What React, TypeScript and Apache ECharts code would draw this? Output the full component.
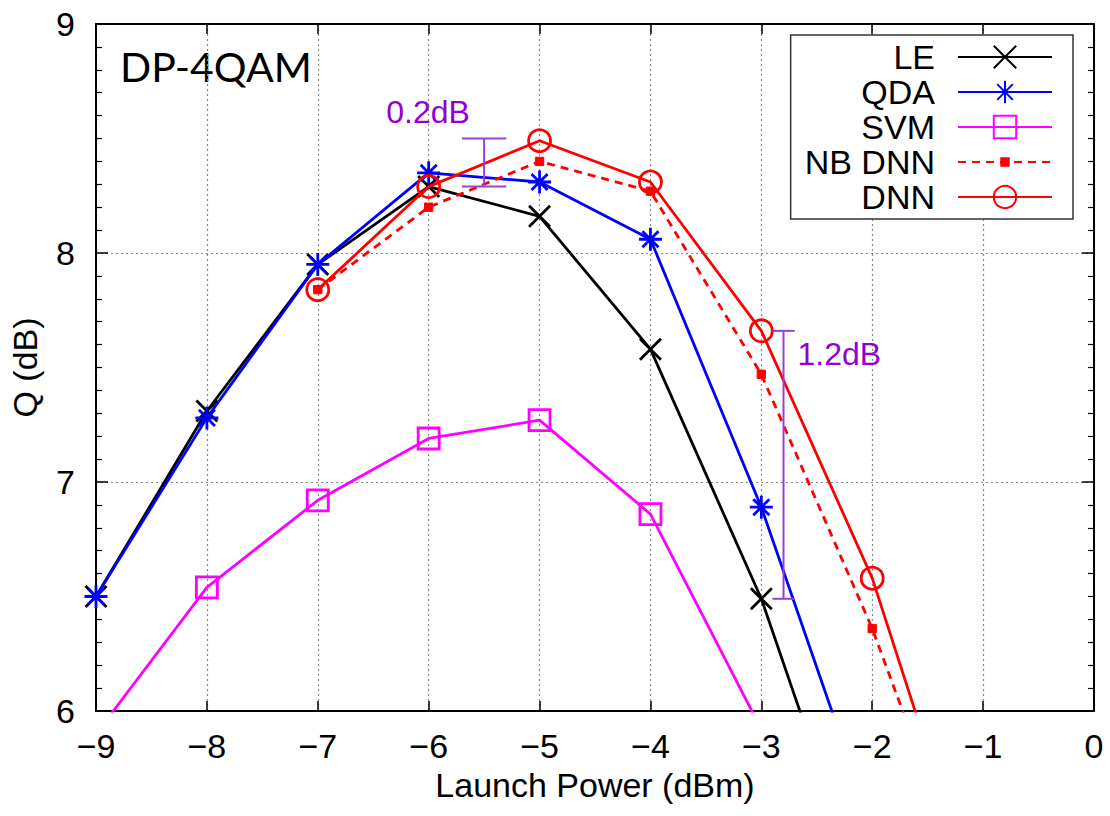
import { useEffect, useRef } from 'react';
import * as echarts from 'echarts';

// Launch power sweep (dBm) and measured Q factor (dB) for each equaliser
const powerLE = [-9, -8, -7, -6, -5, -4, -3, -2];
const qLE = [6.5, 7.31, 7.95, 8.29, 8.16, 7.58, 6.49, 5.08];

const powerQDA = [-9, -8, -7, -6, -5, -4, -3, -2];
const qQDA = [6.5, 7.28, 7.95, 8.35, 8.31, 8.06, 6.89, 5.49];

const powerSVM = [-9, -8, -7, -6, -5, -4, -3];
const qSVM = [5.9, 6.54, 6.92, 7.19, 7.27, 6.86, 5.92];

const powerNBDNN = [-7, -6, -5, -4, -3, -2, -1];
const qNBDNN = [7.84, 8.2, 8.4, 8.27, 7.47, 6.36, 5.05];

const powerDNN = [-7, -6, -5, -4, -3, -2, -1];
const qDNN = [7.84, 8.29, 8.49, 8.31, 7.66, 6.58, 5.08];

// Gain brackets: position on the power axis, lower and upper Q, cap half-width
const gainPower = [-5.5, -2.8];
const gainLow = [8.29, 6.49];
const gainHigh = [8.5, 7.66];
const gainCap = [0.2, 0.1];

const xTicks = [-9, -8, -7, -6, -5, -4, -3, -2, -1, 0];
const yTicks = [6, 7, 8, 9];

const FONT = '"Liberation Sans", Arial, Helvetica, sans-serif';
const FS = 34;
const PURPLE_TEXT = '#9400D3';
const PURPLE_LINE = '#9B3FD4';

const pairs = (xs: number[], ys: number[]) => xs.map((x, i) => [x, ys[i]]);
const minus = (v: number) => (v < 0 ? '\u2212' + Math.abs(v) : String(v));

const SYM_CROSS = 'path://M0,0L20,20M20,0L0,20';
const SYM_STAR = 'path://M0,10L20,10M10,0L10,20M3,3L17,17M17,3L3,17';
const SYM_SMALL_SQUARE = 'path://M0,0M24,24M8,8L16,8L16,16L8,16Z';

// pixel offsets of the bracket captions from the top of each bracket
const captionDx = [-56, 14];
const captionDy = [-27, 23];
const captionAlign = ['center', 'left'];

export default function App() {
  const ref = useRef<HTMLDivElement>(null);

  useEffect(() => {
    if (!ref.current) return;
    const chart = echarts.init(ref.current, undefined, { renderer: 'svg' });

    const lineW = 2.8;

    const option: any = {
      animation: false,
      backgroundColor: '#ffffff',
      grid: { left: 96, right: 16, top: 24, bottom: 105, containLabel: false },
      xAxis: [
        {
          type: 'value',
          min: xTicks[0],
          max: xTicks[xTicks.length - 1],
          interval: 1,
          name: 'Launch Power (dBm)',
          nameLocation: 'middle',
          nameGap: 53,
          nameTextStyle: { fontSize: FS, fontFamily: FONT, color: '#000' },
          axisLine: { show: true, onZero: false, lineStyle: { color: '#000', width: 2 } },
          axisTick: { show: true, inside: true, length: 10, lineStyle: { color: '#000', width: 1.5 } },
          axisLabel: { fontSize: FS, fontFamily: FONT, color: '#000', margin: 18, formatter: minus },
          splitLine: { show: true, lineStyle: { color: '#888', width: 1.2, type: [2, 3] } },
        },
        {
          type: 'value',
          position: 'top',
          min: xTicks[0],
          max: xTicks[xTicks.length - 1],
          interval: 1,
          axisLine: { show: true, onZero: false, lineStyle: { color: '#000', width: 2 } },
          axisTick: { show: true, inside: true, length: 10, lineStyle: { color: '#000', width: 1.5 } },
          axisLabel: { show: false },
          splitLine: { show: false },
        },
      ],
      yAxis: [
        {
          type: 'value',
          min: yTicks[0],
          max: yTicks[yTicks.length - 1],
          interval: 1,
          name: 'Q (dB)',
          nameLocation: 'middle',
          nameGap: 54,
          nameTextStyle: { fontSize: FS, fontFamily: FONT, color: '#000' },
          axisLine: { show: true, onZero: false, lineStyle: { color: '#000', width: 2 } },
          axisTick: { show: true, inside: true, length: 12, lineStyle: { color: '#000', width: 1.5 } },
          minorTick: { show: true, splitNumber: 10, length: 6, lineStyle: { color: '#000', width: 1.2 } },
          axisLabel: { fontSize: FS, fontFamily: FONT, color: '#000', margin: 21 },
          splitLine: { show: true, lineStyle: { color: '#888', width: 1.2, type: [2, 3] } },
        },
        {
          type: 'value',
          position: 'right',
          min: yTicks[0],
          max: yTicks[yTicks.length - 1],
          interval: 1,
          axisLine: { show: true, onZero: false, lineStyle: { color: '#000', width: 2 } },
          axisTick: { show: true, inside: true, length: 12, lineStyle: { color: '#000', width: 1.5 } },
          minorTick: { show: true, splitNumber: 10, length: 6, lineStyle: { color: '#000', width: 1.2 } },
          axisLabel: { show: false },
          splitLine: { show: false },
        },
      ],
      legend: {
        orient: 'vertical',
        right: 37,
        top: 35,
        align: 'right',
        itemWidth: 94,
        itemHeight: 28,
        itemGap: 1,
        padding: [5, 20, 5, 14],
        borderColor: '#333',
        borderWidth: 1.5,
        borderRadius: 0,
        backgroundColor: '#fff',
        selectedMode: false,
        textStyle: { fontSize: FS, fontFamily: FONT, color: '#000', padding: [0, 18, 0, 0] },
        data: ['LE', 'QDA', 'SVM', 'NB DNN', 'DNN'],
      },
      graphic: [
        {
          type: 'text',
          left: 120,
          top: 46,
          style: { text: 'DP-4QAM', font: '41px Lato, "Open Sans", sans-serif', fill: '#000' },
        },
      ],
      series: [
        {
          name: 'LE',
          type: 'line',
          data: pairs(powerLE, qLE),
          symbol: SYM_CROSS,
          symbolSize: 21,
          lineStyle: { color: '#000', width: lineW },
          itemStyle: { color: '#000', borderColor: '#000', borderWidth: 2.8 },
          emphasis: { disabled: true },
          z: 3,
        },
        {
          name: 'QDA',
          type: 'line',
          data: pairs(powerQDA, qQDA),
          symbol: SYM_STAR,
          symbolSize: 23,
          lineStyle: { color: '#0000ff', width: lineW },
          itemStyle: { color: '#0000ff', borderColor: '#0000ff', borderWidth: 2.8 },
          emphasis: { disabled: true },
          z: 4,
        },
        {
          name: 'SVM',
          type: 'line',
          data: pairs(powerSVM, qSVM),
          symbol: 'rect',
          symbolSize: 21,
          lineStyle: { color: '#ff00ff', width: lineW },
          itemStyle: { color: 'rgba(255,255,255,0)', borderColor: '#ff00ff', borderWidth: 2.8 },
          emphasis: { disabled: true },
          z: 2,
        },
        {
          name: 'NB DNN',
          type: 'line',
          data: pairs(powerNBDNN, qNBDNN),
          symbol: SYM_SMALL_SQUARE,
          symbolSize: 25,
          lineStyle: { color: '#ff0000', width: lineW, type: [8, 6] },
          itemStyle: { color: '#ff0000', borderColor: '#ff0000', borderWidth: 1 },
          emphasis: { disabled: true },
          z: 5,
        },
        {
          name: 'DNN',
          type: 'line',
          data: pairs(powerDNN, qDNN),
          symbol: 'circle',
          symbolSize: 22,
          lineStyle: { color: '#ff0000', width: lineW },
          itemStyle: { color: 'rgba(255,255,255,0)', borderColor: '#ff0000', borderWidth: 2.8 },
          emphasis: { disabled: true },
          z: 6,
        },
        {
          name: 'gain',
          type: 'custom',
          data: gainPower.map((x, i) => [x, gainLow[i], gainHigh[i], gainCap[i]]),
          silent: true,
          z: 7,
          renderItem: (params: any, api: any) => {
            const i = params.dataIndex;
            const x = api.value(0);
            const lo = api.value(1);
            const hi = api.value(2);
            const cap = api.value(3);
            const top = api.coord([x, hi]);
            const bot = api.coord([x, lo]);
            const capL = api.coord([x - cap, hi])[0];
            const capR = api.coord([x + cap, hi])[0];
            const ls = { stroke: PURPLE_LINE, lineWidth: 2 };
            const caption = (hi - lo).toFixed(1) + 'dB';
            return {
              type: 'group',
              children: [
                { type: 'line', shape: { x1: top[0], y1: top[1], x2: bot[0], y2: bot[1] }, style: ls },
                { type: 'line', shape: { x1: capL, y1: top[1], x2: capR, y2: top[1] }, style: ls },
                { type: 'line', shape: { x1: capL, y1: bot[1], x2: capR, y2: bot[1] }, style: ls },
                {
                  type: 'text',
                  style: {
                    text: caption,
                    x: top[0] + captionDx[i],
                    y: top[1] + captionDy[i],
                    fill: PURPLE_TEXT,
                    font: '32px ' + FONT,
                    align: captionAlign[i],
                    verticalAlign: 'middle',
                  },
                },
              ],
            };
          },
        },
      ],
    };

    chart.setOption(option);
    return () => chart.dispose();
  }, []);

  return (
    <div
      ref={ref}
      style={{ position: 'fixed', left: 0, top: 0, width: 1110, height: 816, background: '#fff' }}
    />
  );
}
